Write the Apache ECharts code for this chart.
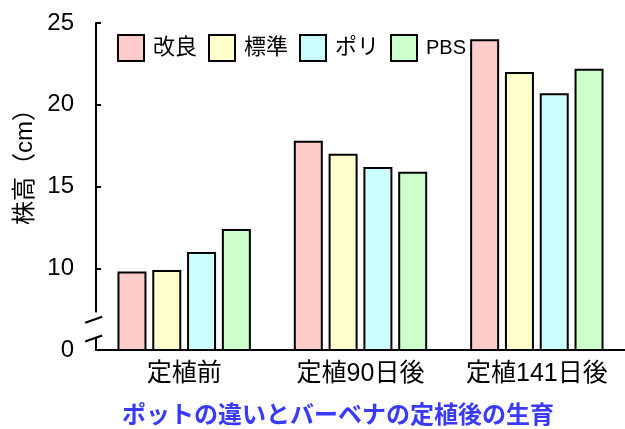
<!DOCTYPE html>
<html>
<head>
<meta charset="utf-8">
<script src="https://cdn.jsdelivr.net/npm/echarts@6/dist/echarts.min.js"></script>
<style>
html, body { margin: 0; padding: 0; background: #fff; }
#main { width: 625px; height: 429px; }
</style>
</head>
<body>
<div id="main"></div>
<script>
var categories = ['定植前', '定植90日後', '定植141日後'];
var seriesNames = ['改良', '標準', 'ポリ', 'PBS'];
var kairyo = [9.8, 17.8, 24.0];
var hyojun = [9.9, 17.0, 22.0];
var pori = [11.0, 16.2, 20.7];
var pbs = [12.4, 15.9, 22.2];
// axis is broken: the bottom tick stands for 0
var yTickValues = [5, 10, 15, 20, 25];
var yTickLabels = ['0', '10', '15', '20', '25'];

var FONT = '"Liberation Sans", "Noto Sans CJK JP", sans-serif';
var colors = ['#ffcccc', '#ffffcc', '#ccffff', '#ccffcc'];
var values = [kairyo, hyojun, pori, pbs];

var chart = echarts.init(document.getElementById('main'));

var series = [];
var legendData = [];
for (var i = 0; i < seriesNames.length; i++) {
    series.push({
        name: seriesNames[i],
        type: 'bar',
        data: values[i],
        barWidth: 29,
        barGap: '20%',
        itemStyle: { color: colors[i], borderColor: '#000', borderWidth: 2 },
        emphasis: { disabled: true }
    });
    var ld = { name: seriesNames[i] };
    // latin legend text is drawn narrower in the original
    if (seriesNames[i] == 'PBS') ld.textStyle = { fontSize: 20 };
    legendData.push(ld);
}

var option = {
    animation: false,
    textStyle: { fontFamily: FONT },
    title: {
        text: 'ポットの違いとバーベナの定植後の生育',
        left: 122,
        top: 404,
        padding: 0,
        textStyle: { color: '#3a3aff', fontSize: 24, fontWeight: 'bold', fontFamily: FONT }
    },
    legend: {
        left: 117,
        top: 34,
        itemWidth: 26,
        itemHeight: 26,
        itemGap: 11,
        padding: 0,
        icon: 'rect',
        data: legendData,
        itemStyle: { borderColor: '#000', borderWidth: 2 },
        textStyle: { fontSize: 22, color: '#000', padding: [0, 0, 0, 4], fontFamily: FONT }
    },
    grid: { left: 96, top: 23, width: 540, height: 327 },
    xAxis: {
        type: 'category',
        data: categories,
        axisLine: { lineStyle: { color: '#000', width: 2 } },
        axisTick: { show: false },
        axisLabel: { color: '#000', fontSize: 25, margin: 12, interval: 0, hideOverlap: false, fontFamily: FONT }
    },
    yAxis: {
        type: 'value',
        min: 5,
        max: 25,
        interval: 5,
        axisLine: { show: true, lineStyle: { color: '#000', width: 2 } },
        axisTick: { show: true, inside: true, length: 5, lineStyle: { color: '#000', width: 2 } },
        splitLine: { show: false },
        axisLabel: {
            color: '#000',
            fontSize: 24,
            margin: 22,
            fontFamily: FONT,
            formatter: function (v) {
                var k = yTickValues.indexOf(v);
                return k >= 0 ? yTickLabels[k] : '';
            }
        }
    },
    series: series
};
chart.setOption(option);

// axis break marks and rotated axis name
var ax = chart.convertToPixel({ xAxisIndex: 0 }, categories[0]) - 90;
var yTop = chart.convertToPixel({ yAxisIndex: 0 }, 7.3);
var yBot = chart.convertToPixel({ yAxisIndex: 0 }, 5.8);
var y1 = chart.convertToPixel({ yAxisIndex: 0 }, 6.85);
var y2 = chart.convertToPixel({ yAxisIndex: 0 }, 5.7);
chart.setOption({
    graphic: [
        { type: 'rect', shape: { x: ax - 3, y: yTop, width: 6, height: yBot - yTop }, style: { fill: '#fff' }, z: 100 },
        { type: 'line', shape: { x1: ax - 9, y1: y1 + 3, x2: ax + 8, y2: y1 - 3 }, style: { stroke: '#000', lineWidth: 2 }, z: 101 },
        { type: 'line', shape: { x1: ax - 9, y1: y2 + 3, x2: ax + 8, y2: y2 - 3 }, style: { stroke: '#000', lineWidth: 2 }, z: 101 },
        {
            type: 'text', x: 25, y: 161, rotation: Math.PI / 2, z: 101,
            style: { text: '株高（cm）', fill: '#000', font: '24px ' + FONT, align: 'center', verticalAlign: 'middle' }
        }
    ]
});
</script>
</body>
</html>
